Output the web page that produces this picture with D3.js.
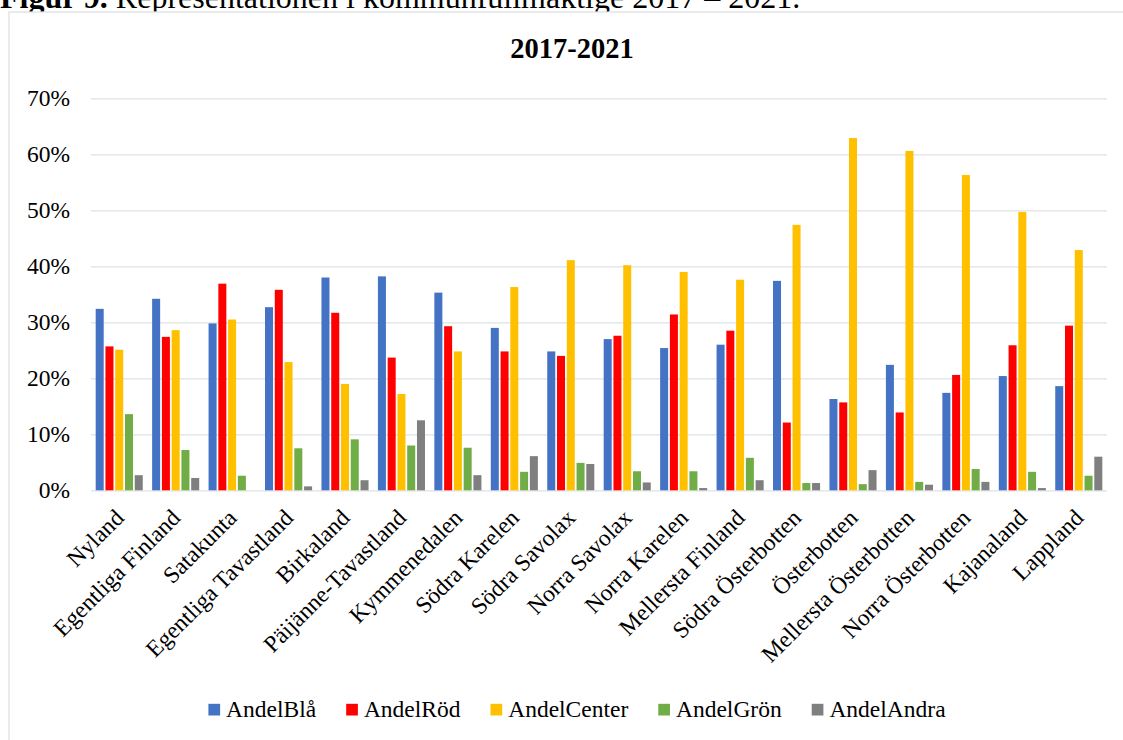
<!DOCTYPE html>
<html>
<head>
<meta charset="utf-8">
<script src="https://cdn.jsdelivr.net/npm/d3@7"></script>
<style>
    body { margin: 0; background: #fff; overflow: hidden; }
    svg { display: block; }
    svg text { font-family: "Liberation Serif", "Times New Roman", serif; }
</style>
</head>
<body>
<div id="chart"></div>
<script>
// regions (x axis)
const regions = ["Nyland", "Egentliga Finland", "Satakunta", "Egentliga Tavastland", "Birkaland",
    "Päijänne-Tavastland", "Kymmenedalen", "Södra Karelen", "Södra Savolax", "Norra Savolax",
    "Norra Karelen", "Mellersta Finland", "Södra Österbotten", "Österbotten", "Mellersta Österbotten",
    "Norra Österbotten", "Kajanaland", "Lappland"];

const seriesNames = ["AndelBlå", "AndelRöd", "AndelCenter", "AndelGrön", "AndelAndra"];
const seriesColors = ["#4472C4", "#FF0000", "#FFC000", "#70AD47", "#7F7F7F"];

// shares in percent
const andelBla    = [32.4, 34.2, 29.8, 32.7, 38.0, 38.2, 35.3, 29.0, 24.8, 27.0, 25.4, 26.0, 37.4, 16.3, 22.4, 17.4, 20.4, 18.6];
const andelRod    = [25.7, 27.4, 36.9, 35.8, 31.7, 23.7, 29.3, 24.8, 24.0, 27.6, 31.4, 28.5, 12.1, 15.7, 13.9, 20.6, 25.9, 29.4];
const andelCenter = [25.1, 28.6, 30.5, 22.9, 19.0, 17.2, 24.8, 36.3, 41.1, 40.2, 39.0, 37.6, 47.4, 62.9, 60.6, 56.3, 49.7, 42.9];
const andelGron   = [13.6, 7.2, 2.6, 7.5, 9.1, 8.0, 7.6, 3.3, 4.9, 3.4, 3.4, 5.8, 1.3, 1.1, 1.5, 3.8, 3.3, 2.6];
const andelAndra  = [2.7, 2.2, 0.0, 0.7, 1.8, 12.5, 2.7, 6.1, 4.7, 1.4, 0.4, 1.8, 1.3, 3.6, 1.0, 1.5, 0.4, 6.0];

const yTicks = [0, 10, 20, 30, 40, 50, 60, 70];

const seriesValues = [andelBla, andelRod, andelCenter, andelGron, andelAndra];

const width = 1123, height = 740;
const plot = {left: 91, right: 1107, top: 98.3, bottom: 490.3};
const gridColor = "#dde1e6";
const serif = '"Liberation Serif", "Times New Roman", serif';

let svg = d3.select("#chart").append("svg")
        .attr("width", width)
        .attr("height", height);

// caption above the chart frame (cut off at the top like the source)
let caption = svg.append("text")
        .attr("x", 0)
        .attr("y", 8)
        .style("font-size", "32px")
        .attr("fill", "#000");
caption.append("tspan").style("font-weight", "bold").text("Figur 9.");
caption.append("tspan").text(" Representationen i kommunfullmäktige 2017 – 2021.");

// chart frame
svg.append("rect")
        .attr("x", 9)
        .attr("y", 12)
        .attr("width", 1140)
        .attr("height", 760)
        .attr("fill", "#fff")
        .attr("stroke", gridColor)
        .attr("stroke-width", 1.3);

svg.append("text")
        .attr("x", 572)
        .attr("y", 58)
        .attr("text-anchor", "middle")
        .style("font-size", "28.5px")
        .style("font-weight", "bold")
        .text("2017-2021");

let x0 = d3.scaleBand()
        .domain(regions)
        .range([plot.left, plot.right]);

let x1 = d3.scaleBand()
        .domain(seriesNames)
        .range([0, x0.bandwidth()])
        .paddingInner(0.18)
        .paddingOuter(0.48);

let y = d3.scaleLinear()
        .domain([0, 70])
        .range([plot.bottom, plot.top]);

// gridlines + y labels
let yAxis = d3.axisLeft(y)
        .tickValues(yTicks)
        .tickSize(-(plot.right - plot.left))
        .tickPadding(21)
        .tickFormat(d => d + "%");

let yG = svg.append("g")
        .attr("transform", "translate(" + plot.left + ",0)")
        .call(yAxis)
        .attr("font-family", serif);
yG.select(".domain").remove();
yG.selectAll(".tick line")
        .attr("stroke", gridColor)
        .attr("stroke-width", 1.3);
yG.selectAll(".tick text")
        .attr("fill", "#000")
        .style("font-family", serif)
        .style("font-size", "23.5px");

// bars
let groups = svg.selectAll("g.region")
        .data(regions)
        .enter()
        .append("g")
        .attr("class", "region")
        .attr("transform", d => "translate(" + x0(d) + ",0)");

groups.selectAll("rect")
        .data((d, i) => seriesNames.map((s, k) => ({series: s, value: seriesValues[k][i], color: seriesColors[k]})))
        .enter()
        .append("rect")
        .attr("x", d => x1(d.series))
        .attr("width", x1.bandwidth())
        .attr("y", d => y(d.value))
        .attr("height", d => y(0) - y(d.value))
        .attr("fill", d => d.color);

// category labels
let xAxis = d3.axisBottom(x0).tickSize(0).tickPadding(0);
let xG = svg.append("g")
        .attr("transform", "translate(0," + plot.bottom + ")")
        .call(xAxis)
        .attr("font-family", serif);
xG.select(".domain").remove();
xG.selectAll(".tick text")
        .attr("fill", "#000")
        .attr("text-anchor", "end")
        .attr("dy", 0)
        .attr("y", 0)
        .attr("transform", "translate(6,29) rotate(-45)")
        .style("font-family", serif)
        .style("font-size", "23.5px");

// legend
let legend = svg.append("g").attr("class", "legend");
let cursor = 0;
seriesNames.forEach(function (name, i) {
    let item = legend.append("g").attr("transform", "translate(" + cursor + ",0)");
    item.append("rect")
            .attr("x", 0)
            .attr("y", -13.5)
            .attr("width", 11.7)
            .attr("height", 11.7)
            .attr("fill", seriesColors[i]);
    let t = item.append("text")
            .attr("x", 17.7)
            .attr("y", 0)
            .style("font-family", serif)
            .style("font-size", "23.5px")
            .text(name);
    cursor += 17.7 + t.node().getComputedTextLength() + 30;
});
let legendWidth = cursor - 30;
legend.attr("transform", "translate(" + (577 - legendWidth / 2) + ",717.3)");
</script>
</body>
</html>
